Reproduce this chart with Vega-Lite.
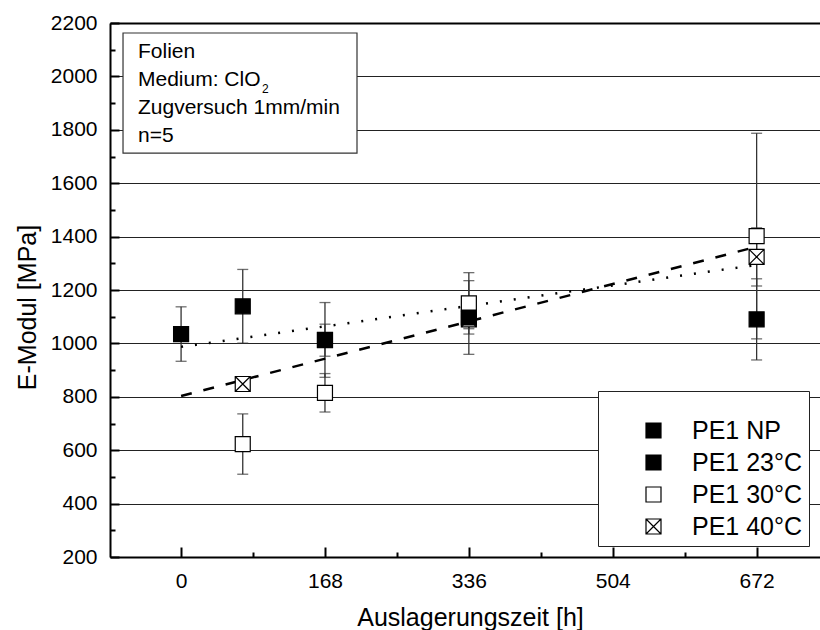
{
  "$schema": "https://vega.github.io/schema/vega-lite/v6.json",
  "width": 710,
  "height": 534,
  "autosize": {"type": "none"},
  "padding": {"left": 110, "top": 23, "right": 0, "bottom": 73},
  "background": "white",
  "config": {
    "view": {"stroke": null},
    "font": "Liberation Sans",
    "axis": {"labelColor": "black", "titleColor": "black", "titleFontWeight": "normal", "labelFont": "Liberation Sans", "titleFont": "Liberation Sans"}
  },
  "datasets": {
    "emodul": [
      {"serie": "PE1 40°C", "t": 72, "v": 848, "e": 20},
      {"serie": "PE1 40°C", "t": 168, "v": 1012, "e": 60},
      {"serie": "PE1 40°C", "t": 336, "v": 1090, "e": 35},
      {"serie": "PE1 40°C", "t": 672, "v": 1324, "e": 109},
      {"serie": "PE1 30°C", "t": 72, "v": 623, "e": 113},
      {"serie": "PE1 30°C", "t": 168, "v": 815, "e": 72},
      {"serie": "PE1 30°C", "t": 336, "v": 1150, "e": 115},
      {"serie": "PE1 30°C", "t": 672, "v": 1402, "e": 385},
      {"serie": "PE1 23°C", "t": 72, "v": 1139, "e": 138},
      {"serie": "PE1 23°C", "t": 168, "v": 1013, "e": 140},
      {"serie": "PE1 23°C", "t": 336, "v": 1097, "e": 138},
      {"serie": "PE1 23°C", "t": 672, "v": 1090, "e": 152},
      {"serie": "PE1 NP", "t": 0, "v": 1035, "e": 102}
    ],
    "fits": [
      {"fit": "Fit 1", "t": 0, "v": 803},
      {"fit": "Fit 1", "t": 672, "v": 1362},
      {"fit": "Fit 2", "t": 0, "v": 987},
      {"fit": "Fit 2", "t": 672, "v": 1294}
    ]
  },
  "data": {"name": "emodul"},
  "resolve": {"axis": {"x": "independent", "y": "independent"}},
  "layer": [
    {
      "mark": {"type": "errorbar", "ticks": true, "size": 11, "thickness": 1.3, "color": "#333"},
      "encoding": {
        "x": {
          "field": "t", "type": "quantitative",
          "scale": {"domain": [-83, 746], "nice": false, "zero": false},
          "axis": {
            "orient": "bottom",
            "values": [0, 168, 336, 504, 672], "format": "d", "title": "Auslagerungszeit [h]",
            "labelFontSize": 21, "titleFontSize": 25,
            "domainColor": "black", "domainWidth": 2,
            "tickColor": "black", "tickWidth": 2, "tickSize": -10,
            "labelPadding": 23, "labelBaseline": "top", "labelFlush": false, "labelOverlap": false,
            "grid": false,
            "titleX": 360, "titleY": 68, "titleBaseline": "alphabetic", "titleAlign": "center"
          }
        },
        "y": {
          "field": "v", "type": "quantitative",
          "scale": {"domain": [200, 2200], "nice": false, "zero": false},
          "axis": {
            "orient": "left",
            "values": [200, 400, 600, 800, 1000, 1200, 1400, 1600, 1800, 2000, 2200], "format": "d",
            "title": "E-Modul [MPa]",
            "labelFontSize": 21, "titleFontSize": 25,
            "domainColor": "black", "domainWidth": 2,
            "tickColor": "black", "tickWidth": 2, "tickSize": -9,
            "labelPadding": 22, "labelFlush": false, "labelOverlap": false,
            "grid": true, "gridColor": "#222", "gridWidth": 1,
            "titleX": -75, "titleY": 284, "titleBaseline": "alphabetic", "titleAlign": "center", "titleAngle": -90
          }
        },
        "yError": {"field": "e"}
      }
    },
    {
      "mark": {"type": "point", "opacity": 0},
      "encoding": {
        "x": {
          "field": "t", "type": "quantitative",
          "axis": {"orient": "bottom", "values": [84, 252, 420, 588], "labels": false, "domain": false, "grid": false, "title": null, "tickColor": "black", "tickWidth": 2, "tickSize": -5}
        },
        "y": {
          "field": "v", "type": "quantitative",
          "axis": {"orient": "left", "values": [300, 500, 700, 900, 1100, 1300, 1500, 1700, 1900, 2100], "labels": false, "domain": false, "grid": false, "title": null, "tickColor": "black", "tickWidth": 2, "tickSize": -5}
        }
      }
    },
    {
      "mark": {"type": "point", "opacity": 0},
      "encoding": {
        "x": {
          "field": "t", "type": "quantitative",
          "axis": {"orient": "top", "labels": false, "ticks": false, "grid": false, "title": null, "domainColor": "black", "domainWidth": 2}
        },
        "y": {"field": "v", "type": "quantitative", "axis": null}
      }
    },
    {
      "data": {"name": "fits"},
      "mark": {"type": "line", "color": "black", "strokeWidth": 2.5},
      "encoding": {
        "x": {"field": "t", "type": "quantitative", "axis": null},
        "y": {"field": "v", "type": "quantitative", "axis": null},
        "strokeDash": {
          "field": "fit", "type": "nominal", "legend": null,
          "scale": {"domain": ["Fit 1", "Fit 2"], "range": [[11, 12], [2, 12]]}
        }
      }
    },
    {
      "mark": {"type": "point", "filled": true, "size": 225, "strokeWidth": 1.2, "opacity": 1},
      "encoding": {
        "x": {"field": "t", "type": "quantitative", "axis": null},
        "y": {"field": "v", "type": "quantitative", "axis": null},
        "fill": {
          "field": "serie", "type": "nominal",
          "scale": {"domain": ["PE1 NP", "PE1 23°C", "PE1 30°C", "PE1 40°C"], "range": ["black", "black", "white", "white"]},
          "legend": {
            "title": " ", "titleFontSize": 10, "titlePadding": 11,
            "orient": "none", "legendX": 488, "legendY": 368,
            "strokeColor": "#222", "fillColor": "white", "padding": 6,
            "labelFont": "Liberation Sans", "labelFontSize": 25, "labelColor": "black",
            "symbolSize": 225, "symbolStrokeWidth": 1.2,
            "rowPadding": 6, "symbolOffset": 37, "labelOffset": 26
          }
        },
        "stroke": {
          "field": "serie", "type": "nominal",
          "scale": {"domain": ["PE1 NP", "PE1 23°C", "PE1 30°C", "PE1 40°C"], "range": ["black", "black", "black", "black"]},
          "legend": {
            "title": " ", "titleFontSize": 10, "titlePadding": 11,
            "orient": "none", "legendX": 488, "legendY": 368,
            "strokeColor": "#222", "fillColor": "white", "padding": 6,
            "labelFont": "Liberation Sans", "labelFontSize": 25, "labelColor": "black",
            "symbolSize": 225, "symbolStrokeWidth": 1.2,
            "rowPadding": 6, "symbolOffset": 37, "labelOffset": 26
          }
        },
        "shape": {
          "field": "serie", "type": "nominal",
          "scale": {"domain": ["PE1 NP", "PE1 23°C", "PE1 30°C", "PE1 40°C"], "range": ["square", "square", "square", "M-1,-1H1V1H-1Z M-1,-1L1,1 M1,-1L-1,1"]},
          "legend": {
            "title": " ", "titleFontSize": 10, "titlePadding": 11,
            "orient": "none", "legendX": 488, "legendY": 368,
            "strokeColor": "#222", "fillColor": "white", "padding": 6,
            "labelFont": "Liberation Sans", "labelFontSize": 25, "labelColor": "black",
            "symbolSize": 225, "symbolStrokeWidth": 1.2,
            "rowPadding": 6, "symbolOffset": 37, "labelOffset": 26
          }
        }
      }
    },
    {
      "data": {"values": [{}]},
      "mark": {"type": "rect", "fill": "white", "stroke": "#333", "strokeWidth": 1.2},
      "encoding": {
        "x": {"datum": -67.8, "type": "quantitative", "axis": null},
        "x2": {"datum": 205.4},
        "y": {"datum": 2162.5, "type": "quantitative", "axis": null},
        "y2": {"datum": 1713}
      }
    },
    {
      "data": {"values": [{}]},
      "mark": {
        "type": "text", "align": "left", "baseline": "alphabetic",
        "font": "Liberation Sans", "fontSize": 21, "color": "black", "lineHeight": 28,
        "text": ["Folien", "Medium: ClO", "Zugversuch 1mm/min", "n=5"]
      },
      "encoding": {
        "x": {"datum": -50.3, "type": "quantitative", "axis": null},
        "y": {"datum": 2070, "type": "quantitative", "axis": null}
      }
    },
    {
      "data": {"values": [{}]},
      "mark": {"type": "text", "align": "left", "baseline": "alphabetic", "font": "Liberation Sans", "fontSize": 12, "color": "black", "text": "2"},
      "encoding": {
        "x": {"datum": 94.5, "type": "quantitative", "axis": null},
        "y": {"datum": 1939, "type": "quantitative", "axis": null}
      }
    }
  ]
}
